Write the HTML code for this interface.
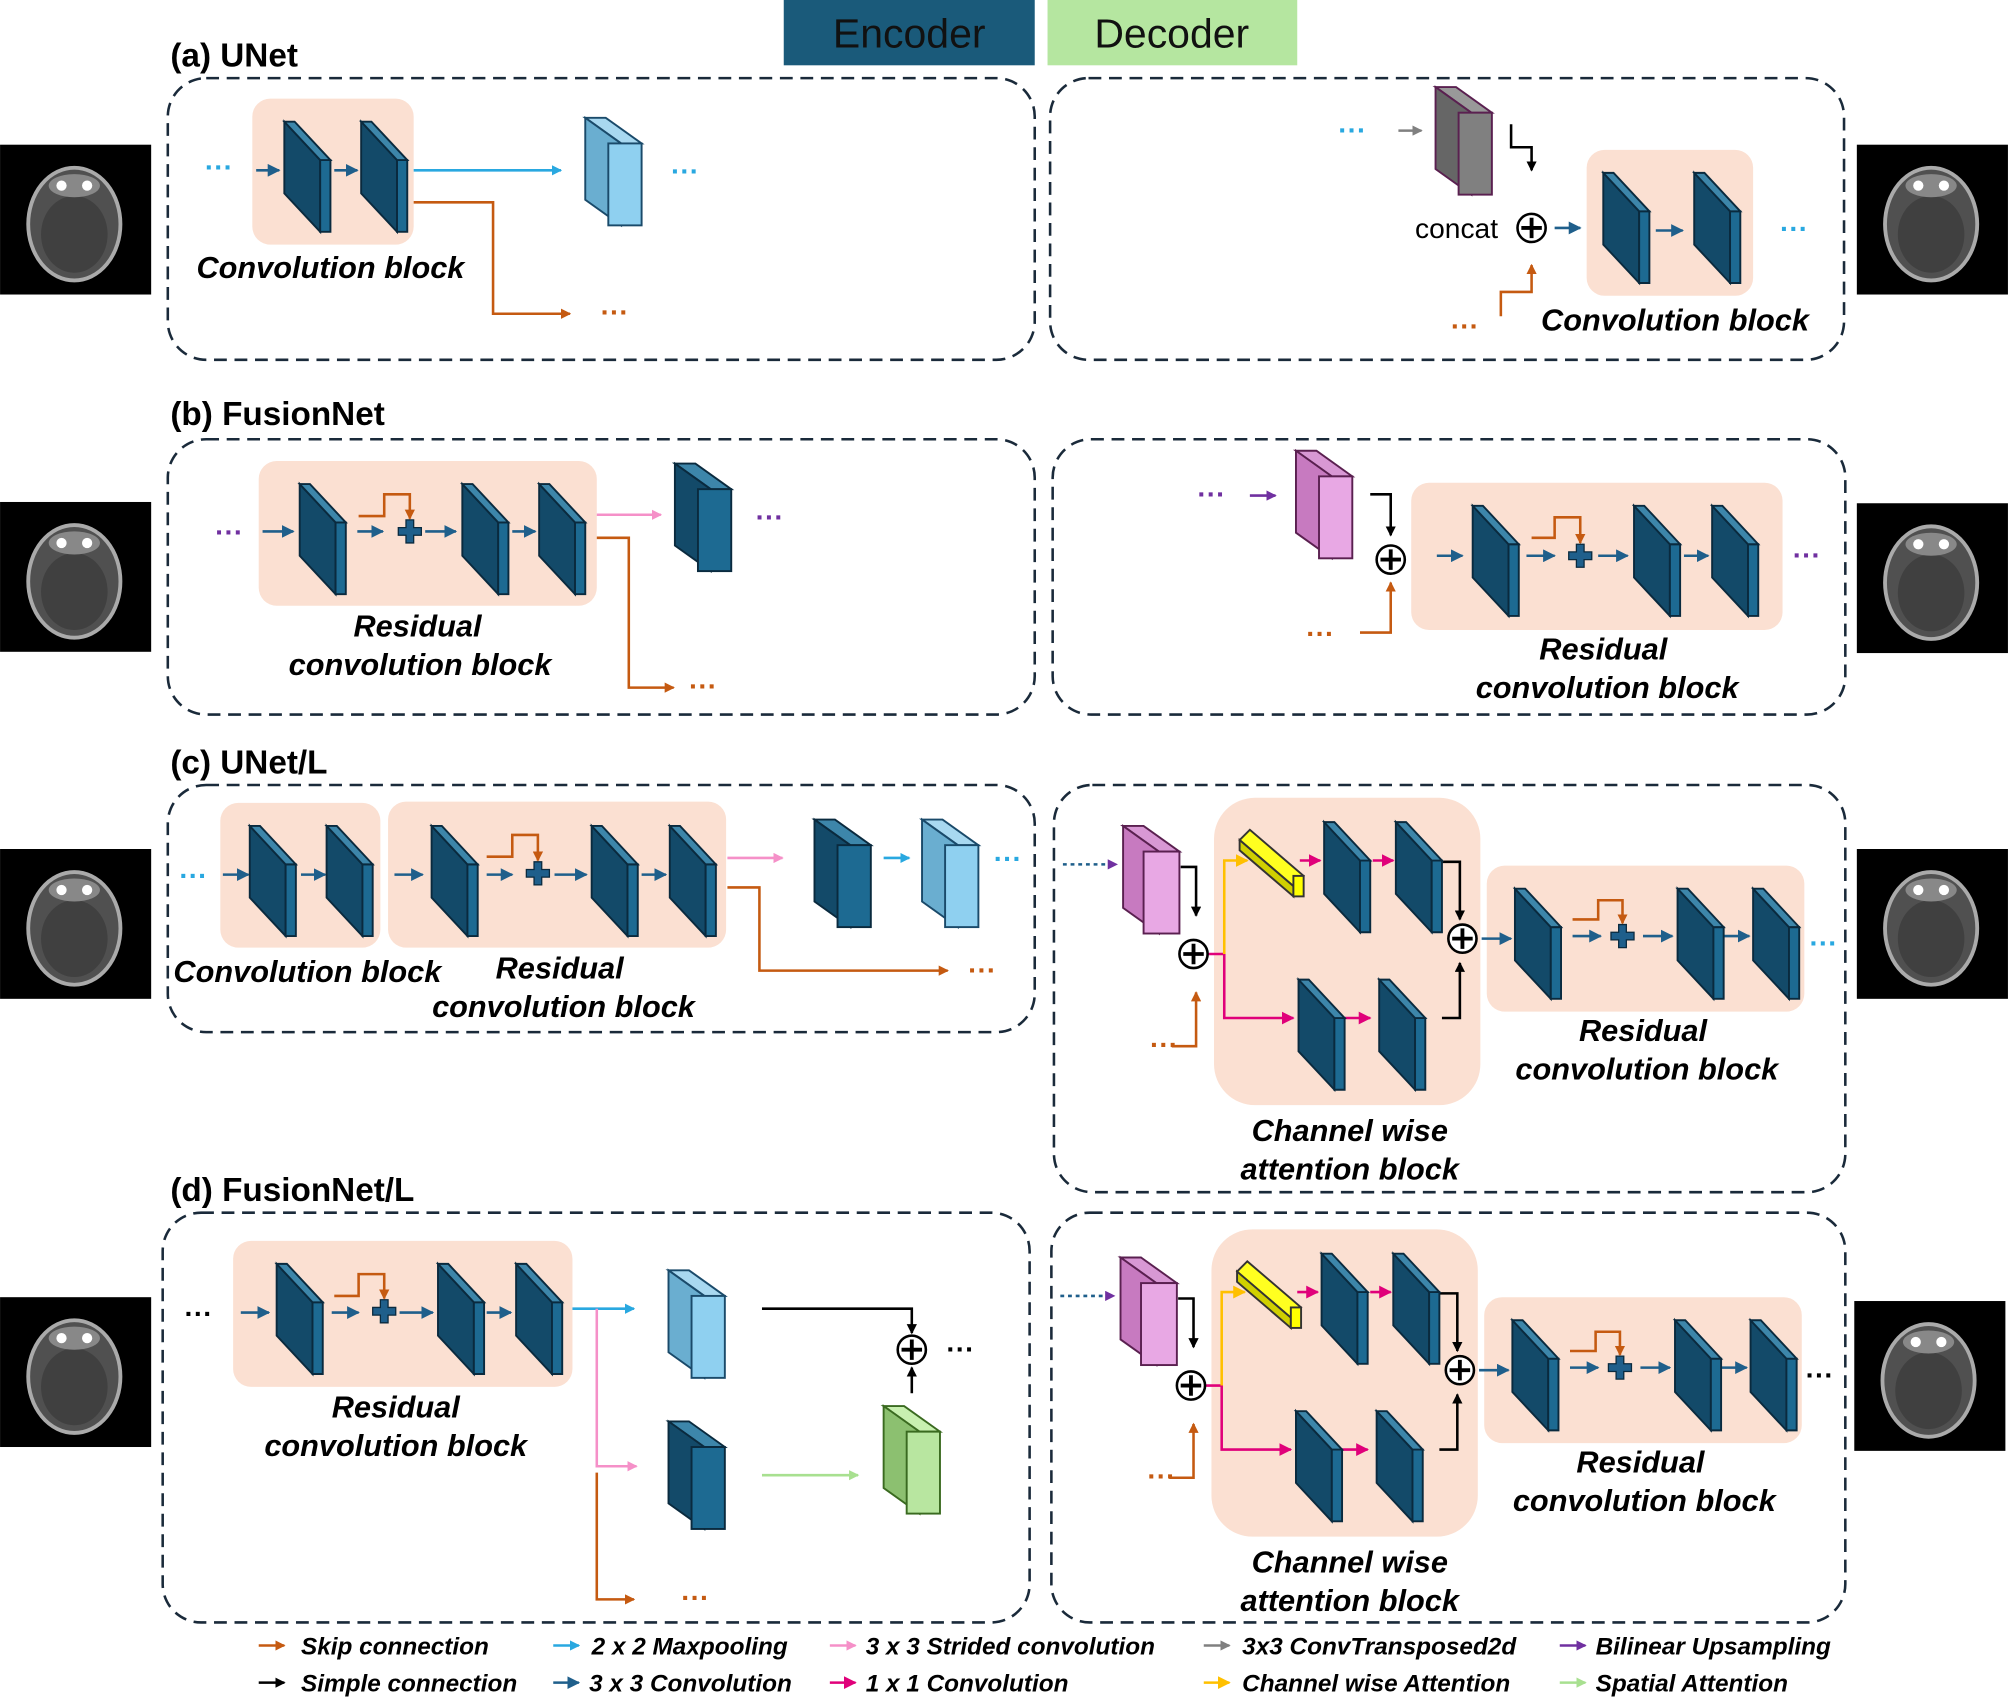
<!DOCTYPE html>
<html><head><meta charset="utf-8"><style>
html,body{margin:0;padding:0;background:#fff}
svg{display:block}
text{font-family:"Liberation Sans",Arial,sans-serif}
.lb{font-weight:bold;font-style:italic;font-size:24px;fill:#000}
.tt{font-weight:bold;font-size:26px;fill:#000}
.lg{font-weight:bold;font-style:italic;font-size:19px;fill:#000}
.dots{font-weight:bold;font-size:22px}
</style></head><body>
<svg width="2008" height="1698" viewBox="0 0 1568 1326" xmlns="http://www.w3.org/2000/svg">
<defs>
<g id="slab">
<polygon points="0,0 28,30 28,86 0,56" fill="#134a69" stroke="#0a2a3e" stroke-width="1.5"/>
<polygon points="28,30 36,30 36,86 28,86" fill="#1d6a92" stroke="#0a2a3e" stroke-width="1.5"/>
<polygon points="0,0 8,0 36,30 28,30" fill="#3d86aa" stroke="#0a2a3e" stroke-width="1.5"/>
</g>
<g id="cross"><path d="M-3,-9h6v6h6v6h-6v6h-6v-6h-6v-6h6z" fill="#1f5f8b" stroke="#0a2a3e" stroke-width="1"/></g>
<g id="cplus"><circle r="11" fill="#fff" stroke="#000" stroke-width="2"/><path d="M-8,0H8M0,-8V8" stroke="#000" stroke-width="3"/></g>
<g id="ybar">
<polygon points="0,8 8,0 50,36 42,44" fill="#ffff20" stroke="#333" stroke-width="1.5"/>
<polygon points="0,8 42,44 42,52 0,16" fill="#d0d000" stroke="#333" stroke-width="1.5"/>
<rect x="42" y="36" width="8" height="16" fill="#ffff00" stroke="#333" stroke-width="1.5"/>
</g>
<g id="ct">
<rect width="118" height="117" fill="#000"/>
<ellipse cx="58" cy="62" rx="36" ry="44" fill="#505050" stroke="#aaa" stroke-width="3"/>
<ellipse cx="58" cy="70" rx="26" ry="30" fill="#404040"/>
<ellipse cx="58" cy="32" rx="20" ry="9" fill="#888"/>
<circle cx="48" cy="32" r="4" fill="#fff"/><circle cx="68" cy="32" r="4" fill="#fff"/>
</g>
<marker id="mo" markerWidth="8" markerHeight="8" refX="7" refY="4" orient="auto" markerUnits="userSpaceOnUse"><path d="M0,0L8,4L0,8z" fill="#c55a11"/></marker>
<marker id="mk" markerWidth="8" markerHeight="8" refX="7" refY="4" orient="auto" markerUnits="userSpaceOnUse"><path d="M0,0L8,4L0,8z" fill="#000"/></marker>
<marker id="mc" markerWidth="8" markerHeight="8" refX="7" refY="4" orient="auto" markerUnits="userSpaceOnUse"><path d="M0,0L8,4L0,8z" fill="#29a8e0"/></marker>
<marker id="md" markerWidth="10" markerHeight="10" refX="9" refY="5" orient="auto" markerUnits="userSpaceOnUse"><path d="M0,0L10,5L0,10z" fill="#1f5f8b"/></marker>
<marker id="mp" markerWidth="8" markerHeight="8" refX="7" refY="4" orient="auto" markerUnits="userSpaceOnUse"><path d="M0,0L8,4L0,8z" fill="#f590c8"/></marker>
<marker id="mm" markerWidth="10" markerHeight="10" refX="9" refY="5" orient="auto" markerUnits="userSpaceOnUse"><path d="M0,0L10,5L0,10z" fill="#e0007a"/></marker>
<marker id="mg" markerWidth="8" markerHeight="8" refX="7" refY="4" orient="auto" markerUnits="userSpaceOnUse"><path d="M0,0L8,4L0,8z" fill="#808080"/></marker>
<marker id="my" markerWidth="10" markerHeight="10" refX="9" refY="5" orient="auto" markerUnits="userSpaceOnUse"><path d="M0,0L10,5L0,10z" fill="#ffc000"/></marker>
<marker id="mu" markerWidth="8" markerHeight="8" refX="7" refY="4" orient="auto" markerUnits="userSpaceOnUse"><path d="M0,0L8,4L0,8z" fill="#7030a0"/></marker>
<marker id="mn" markerWidth="8" markerHeight="8" refX="7" refY="4" orient="auto" markerUnits="userSpaceOnUse"><path d="M0,0L8,4L0,8z" fill="#a8e090"/></marker>
</defs>

<rect x="612" y="0" width="196" height="51" fill="#1a5a7a"/>
<text x="710" y="37" text-anchor="middle" font-size="32" fill="#111">Encoder</text>
<rect x="818" y="0" width="195" height="51" fill="#b5e6a0"/>
<text x="915" y="37" text-anchor="middle" font-size="32" fill="#111">Decoder</text>

<g fill="none" stroke="#1a2a3a" stroke-width="2" stroke-dasharray="10,6">
<rect x="131" y="61" width="677" height="220" rx="30"/>
<rect x="820" y="61" width="620" height="220" rx="30"/>
<rect x="131" y="343" width="677" height="215" rx="30"/>
<rect x="822" y="343" width="619" height="215" rx="30"/>
<rect x="131" y="613" width="677" height="193" rx="30"/>
<rect x="823" y="613" width="618" height="318" rx="30"/>
<rect x="127" y="947" width="677" height="320" rx="30"/>
<rect x="821" y="947" width="620" height="320" rx="30"/>
</g>

<text x="133" y="52" class="tt">(a) UNet</text>
<text x="133" y="332" class="tt">(b) FusionNet</text>
<text x="133" y="604" class="tt">(c) UNet/L</text>
<text x="133" y="938" class="tt">(d) FusionNet/L</text>

<use href="#ct" x="0" y="113"/><use href="#ct" x="0" y="392"/><use href="#ct" x="0" y="663"/><use href="#ct" x="0" y="1013"/>
<use href="#ct" x="1450" y="113"/><use href="#ct" x="1450" y="393"/><use href="#ct" x="1450" y="663"/><use href="#ct" x="1448" y="1016"/>

<g fill="#fbe0d2">
<rect x="197" y="77" width="126" height="114" rx="14"/>
<rect x="1239" y="117" width="130" height="114" rx="14"/>
<rect x="202" y="360" width="264" height="113" rx="14"/>
<rect x="1102" y="377" width="290" height="115" rx="14"/>
<rect x="172" y="627" width="125" height="113" rx="14"/>
<rect x="303" y="626" width="264" height="114" rx="14"/>
<rect x="948" y="623" width="208" height="240" rx="32"/>
<rect x="1161" y="676" width="248" height="114" rx="14"/>
<rect x="182" y="969" width="265" height="114" rx="14"/>
<rect x="946" y="960" width="208" height="240" rx="32"/>
<rect x="1159" y="1013" width="248" height="114" rx="14"/>
</g>

<g stroke-width="2" fill="none">
<text x="160" y="138" class="dots" fill="#29a8e0" stroke="none">···</text>
<line x1="200" y1="133" x2="218" y2="133" stroke="#1f5f8b" marker-end="url(#md)"/>
<line x1="261" y1="133" x2="279" y2="133" stroke="#1f5f8b" marker-end="url(#md)"/>
<line x1="323" y1="133" x2="438" y2="133" stroke="#29a8e0" marker-end="url(#mc)"/>
<polyline points="323,158 385,158 385,245 445,245" stroke="#c55a11" marker-end="url(#mo)"/>
<line x1="1092" y1="102" x2="1110" y2="102" stroke="#808080" marker-end="url(#mg)"/>
<polyline points="1180,97 1180,115 1196,115 1196,133" stroke="#000" marker-end="url(#mk)"/>
<line x1="1214" y1="178" x2="1234" y2="178" stroke="#1f5f8b" marker-end="url(#md)"/>
<line x1="1293" y1="180" x2="1314" y2="180" stroke="#1f5f8b" marker-end="url(#md)"/>
<polyline points="1172,247 1172,228 1196,228 1196,207" stroke="#c55a11" marker-end="url(#mo)"/>
<line x1="205" y1="415" x2="229" y2="415" stroke="#1f5f8b" marker-end="url(#md)"/>
<line x1="279" y1="415" x2="299" y2="415" stroke="#1f5f8b" marker-end="url(#md)"/>
<polyline points="280,403 300,403 300,386 320,386 320,405" stroke="#c55a11" marker-end="url(#mo)"/>
<line x1="332" y1="415" x2="356" y2="415" stroke="#1f5f8b" marker-end="url(#md)"/>
<line x1="400" y1="415" x2="418" y2="415" stroke="#1f5f8b" marker-end="url(#md)"/>
<line x1="466" y1="402" x2="516" y2="402" stroke="#f590c8" marker-end="url(#mp)"/>
<polyline points="466,420 491,420 491,537 526,537" stroke="#c55a11" marker-end="url(#mo)"/>
<line x1="976" y1="387" x2="996" y2="387" stroke="#7030a0" marker-end="url(#mu)"/>
<polyline points="1070,386 1086,386 1086,418" stroke="#000" marker-end="url(#mk)"/>
<polyline points="1062,494 1086,494 1086,455" stroke="#c55a11" marker-end="url(#mo)"/>
<line x1="1122" y1="434" x2="1142" y2="434" stroke="#1f5f8b" marker-end="url(#md)"/>
<line x1="1192" y1="434" x2="1214" y2="434" stroke="#1f5f8b" marker-end="url(#md)"/>
<polyline points="1196,420 1214,420 1214,404 1234,404 1234,424" stroke="#c55a11" marker-end="url(#mo)"/>
<line x1="1248" y1="434" x2="1271" y2="434" stroke="#1f5f8b" marker-end="url(#md)"/>
<line x1="1315" y1="434" x2="1334" y2="434" stroke="#1f5f8b" marker-end="url(#md)"/>
<line x1="174" y1="683" x2="194" y2="683" stroke="#1f5f8b" marker-end="url(#md)"/>
<line x1="235" y1="683" x2="254" y2="683" stroke="#1f5f8b" marker-end="url(#md)"/>
<line x1="308" y1="683" x2="330" y2="683" stroke="#1f5f8b" marker-end="url(#md)"/>
<line x1="380" y1="683" x2="400" y2="683" stroke="#1f5f8b" marker-end="url(#md)"/>
<polyline points="380,669 400,669 400,652 420,652 420,672" stroke="#c55a11" marker-end="url(#mo)"/>
<line x1="433" y1="683" x2="458" y2="683" stroke="#1f5f8b" marker-end="url(#md)"/>
<line x1="501" y1="683" x2="520" y2="683" stroke="#1f5f8b" marker-end="url(#md)"/>
<line x1="568" y1="670" x2="611" y2="670" stroke="#f590c8" marker-end="url(#mp)"/>
<line x1="690" y1="670" x2="710" y2="670" stroke="#29a8e0" marker-end="url(#mc)"/>
<polyline points="568,693 593,693 593,758 740,758" stroke="#c55a11" marker-end="url(#mo)"/>
<line x1="188" y1="1025" x2="210" y2="1025" stroke="#1f5f8b" marker-end="url(#md)"/>
<line x1="259" y1="1025" x2="280" y2="1025" stroke="#1f5f8b" marker-end="url(#md)"/>
<polyline points="261,1012 280,1012 280,995 300,995 300,1014" stroke="#c55a11" marker-end="url(#mo)"/>
<line x1="312" y1="1025" x2="338" y2="1025" stroke="#1f5f8b" marker-end="url(#md)"/>
<line x1="380" y1="1025" x2="399" y2="1025" stroke="#1f5f8b" marker-end="url(#md)"/>
<line x1="447" y1="1022" x2="495" y2="1022" stroke="#29a8e0" marker-end="url(#mc)"/>
<polyline points="466,1022 466,1145 497,1145" stroke="#f590c8" marker-end="url(#mp)"/>
<polyline points="466,1150 466,1249 495,1249" stroke="#c55a11" marker-end="url(#mo)"/>
<polyline points="595,1022 712,1022 712,1041" stroke="#000" marker-end="url(#mk)"/>
<line x1="712" y1="1088" x2="712" y2="1068" stroke="#000" marker-end="url(#mk)"/>
<line x1="595" y1="1152" x2="670" y2="1152" stroke="#a8e090" marker-end="url(#mn)"/>
</g>

<g id="attn">
<g stroke-width="2" fill="none">
<line x1="830" y1="675" x2="872" y2="675" stroke="#1f5f8b" stroke-dasharray="3,3" marker-end="url(#mu)"/>
<polyline points="922,677 934,677 934,715" stroke="#000" marker-end="url(#mk)"/>
<polyline points="915,817 934,817 934,775" stroke="#c55a11" marker-end="url(#mo)"/>
<line x1="943" y1="745" x2="956" y2="745" stroke="#e0007a"/>
<polyline points="956,745 956,672 974,672" stroke="#ffc000" marker-end="url(#my)"/>
<polyline points="956,745 956,795 1010,795" stroke="#e0007a" marker-end="url(#mm)"/>
<line x1="1015" y1="672" x2="1031" y2="672" stroke="#e0007a" marker-end="url(#mm)"/>
<line x1="1072" y1="672" x2="1088" y2="672" stroke="#e0007a" marker-end="url(#mm)"/>
<line x1="1050" y1="795" x2="1070" y2="795" stroke="#e0007a" marker-end="url(#mm)"/>
<polyline points="1126,673 1140,673 1140,718" stroke="#000" marker-end="url(#mk)"/>
<polyline points="1126,795 1140,795 1140,752" stroke="#000" marker-end="url(#mk)"/>
<line x1="1157" y1="733" x2="1180" y2="733" stroke="#1f5f8b" marker-end="url(#md)"/>
<line x1="1228" y1="731" x2="1250" y2="731" stroke="#1f5f8b" marker-end="url(#md)"/>
<polyline points="1228,718 1248,718 1248,703 1267,703 1267,721" stroke="#c55a11" marker-end="url(#mo)"/>
<line x1="1283" y1="731" x2="1306" y2="731" stroke="#1f5f8b" marker-end="url(#md)"/>
<line x1="1345" y1="731" x2="1366" y2="731" stroke="#1f5f8b" marker-end="url(#md)"/>
</g>
<g transform="translate(877,645)">
<polygon points="0,0 16,0 44,20 28,20" fill="#d898d4" stroke="#5a2050" stroke-width="1.5"/>
<polygon points="0,0 28,20 28,84 0,64" fill="#c77ac0" stroke="#5a2050" stroke-width="1.5"/>
<rect x="16" y="20" width="28" height="64" fill="#e8a8e4" stroke="#5a2050" stroke-width="1.5"/>
</g>
<use href="#cplus" x="932" y="745"/>
<use href="#ybar" x="968" y="648"/>
<use href="#slab" x="1034" y="642"/><use href="#slab" x="1090" y="642"/>
<use href="#slab" x="1014" y="765"/><use href="#slab" x="1077" y="765"/>
<use href="#cplus" x="1142" y="733"/>
<use href="#slab" x="1183" y="694"/><use href="#cross" x="1267" y="731"/>
<use href="#slab" x="1310" y="694"/><use href="#slab" x="1369" y="694"/>
<text x="898" y="823" class="dots" fill="#c55a11">···</text>
</g>
<use href="#attn" x="-2" y="337"/>

<use href="#slab" x="222" y="95"/><use href="#slab" x="282" y="95"/>
<use href="#slab" x="1252" y="135"/><use href="#slab" x="1323" y="135"/>
<use href="#slab" x="234" y="378"/><use href="#slab" x="361" y="378"/><use href="#slab" x="421" y="378"/>
<use href="#slab" x="1150" y="395"/><use href="#slab" x="1276" y="395"/><use href="#slab" x="1337" y="395"/>
<use href="#slab" x="195" y="645"/><use href="#slab" x="255" y="645"/>
<use href="#slab" x="337" y="645"/><use href="#slab" x="462" y="645"/><use href="#slab" x="523" y="645"/>
<use href="#slab" x="216" y="987"/><use href="#slab" x="342" y="987"/><use href="#slab" x="403" y="987"/>
<use href="#cross" x="320" y="415"/><use href="#cross" x="1234" y="434"/><use href="#cross" x="420" y="682"/><use href="#cross" x="300" y="1024"/>
<use href="#cplus" x="1196" y="178"/><use href="#cplus" x="1086" y="437"/><use href="#cplus" x="712" y="1054"/>

<g stroke-width="1.5">
<g transform="translate(457,92)" stroke="#1a4a6a"><polygon points="0,0 16,0 44,20 28,20" fill="#a8d8f0"/><polygon points="0,0 28,20 28,84 0,64" fill="#6aaed0"/><rect x="18" y="20" width="26" height="64" fill="#8fd0f0"/></g>
<g transform="translate(1121,68)" stroke="#5a2050"><polygon points="0,0 16,0 44,20 28,20" fill="#999"/><polygon points="0,0 28,20 28,84 0,64" fill="#666"/><rect x="18" y="20" width="26" height="64" fill="#808080"/></g>
<g transform="translate(527,362)" stroke="#0a2a3e"><polygon points="0,0 16,0 44,20 28,20" fill="#3d86aa"/><polygon points="0,0 28,20 28,84 0,64" fill="#134a69"/><rect x="18" y="20" width="26" height="64" fill="#1d6a92"/></g>
<g transform="translate(1012,352)" stroke="#5a2050"><polygon points="0,0 16,0 44,20 28,20" fill="#d898d4"/><polygon points="0,0 28,20 28,84 0,64" fill="#c77ac0"/><rect x="18" y="20" width="26" height="64" fill="#e8a8e4"/></g>
<g transform="translate(636,640)" stroke="#0a2a3e"><polygon points="0,0 16,0 44,20 28,20" fill="#3d86aa"/><polygon points="0,0 28,20 28,84 0,64" fill="#134a69"/><rect x="18" y="20" width="26" height="64" fill="#1d6a92"/></g>
<g transform="translate(720,640)" stroke="#1a4a6a"><polygon points="0,0 16,0 44,20 28,20" fill="#a8d8f0"/><polygon points="0,0 28,20 28,84 0,64" fill="#6aaed0"/><rect x="18" y="20" width="26" height="64" fill="#8fd0f0"/></g>
<g transform="translate(522,992)" stroke="#1a4a6a"><polygon points="0,0 16,0 44,20 28,20" fill="#a8d8f0"/><polygon points="0,0 28,20 28,84 0,64" fill="#6aaed0"/><rect x="18" y="20" width="26" height="64" fill="#8fd0f0"/></g>
<g transform="translate(522,1110)" stroke="#0a2a3e"><polygon points="0,0 16,0 44,20 28,20" fill="#3d86aa"/><polygon points="0,0 28,20 28,84 0,64" fill="#134a69"/><rect x="18" y="20" width="26" height="64" fill="#1d6a92"/></g>
<g transform="translate(690,1098)" stroke="#3a6a20"><polygon points="0,0 16,0 44,20 28,20" fill="#c8f0b0"/><polygon points="0,0 28,20 28,84 0,64" fill="#8cc070"/><rect x="18" y="20" width="26" height="64" fill="#b8e6a0"/></g>
</g>

<g class="dots">
<text x="524" y="141" fill="#29a8e0">···</text>
<text x="469" y="251" fill="#c55a11">···</text>
<text x="1045" y="109" fill="#29a8e0">···</text>
<text x="1390" y="186" fill="#29a8e0">···</text>
<text x="1133" y="262" fill="#c55a11">···</text>
<text x="168" y="423" fill="#7030a0">···</text>
<text x="590" y="411" fill="#7030a0">···</text>
<text x="538" y="543" fill="#c55a11">···</text>
<text x="935" y="393" fill="#7030a0">···</text>
<text x="1020" y="502" fill="#c55a11">···</text>
<text x="1400" y="441" fill="#7030a0">···</text>
<text x="140" y="691" fill="#29a8e0">···</text>
<text x="776" y="678" fill="#29a8e0">···</text>
<text x="756" y="765" fill="#c55a11">···</text>
<text x="1413" y="744" fill="#29a8e0">···</text>
<text x="144" y="1033" fill="#000">···</text>
<text x="739" y="1061" fill="#000">···</text>
<text x="532" y="1255" fill="#c55a11">···</text>
<text x="1410" y="1081" fill="#000">···</text>
</g>
<text x="1105" y="186" font-size="22" fill="#000">concat</text>

<g class="lb" text-anchor="middle">
<text x="258" y="217">Convolution block</text>
<text x="1308" y="258">Convolution block</text>
<text x="326" y="497">Residual</text><text x="328" y="527">convolution block</text>
<text x="1252" y="515">Residual</text><text x="1255" y="545">convolution block</text>
<text x="240" y="767">Convolution block</text>
<text x="437" y="764">Residual</text><text x="440" y="794">convolution block</text>
<text x="1283" y="813">Residual</text><text x="1286" y="843">convolution block</text>
<text x="1054" y="891">Channel wise</text><text x="1054" y="921">attention block</text>
<text x="309" y="1107">Residual</text><text x="309" y="1137">convolution block</text>
<text x="1281" y="1150">Residual</text><text x="1284" y="1180">convolution block</text>
<text x="1054" y="1228">Channel wise</text><text x="1054" y="1258">attention block</text>
</g>

<g stroke-width="2">
<line x1="202" y1="1285" x2="222" y2="1285" stroke="#c55a11" marker-end="url(#mo)"/>
<line x1="202" y1="1314" x2="222" y2="1314" stroke="#000" marker-end="url(#mk)"/>
<line x1="432" y1="1285" x2="452" y2="1285" stroke="#29a8e0" marker-end="url(#mc)"/>
<line x1="432" y1="1314" x2="452" y2="1314" stroke="#1f5f8b" marker-end="url(#md)"/>
<line x1="648" y1="1285" x2="668" y2="1285" stroke="#f590c8" marker-end="url(#mp)"/>
<line x1="648" y1="1314" x2="668" y2="1314" stroke="#e0007a" marker-end="url(#mm)"/>
<line x1="940" y1="1285" x2="960" y2="1285" stroke="#808080" marker-end="url(#mg)"/>
<line x1="940" y1="1314" x2="960" y2="1314" stroke="#ffc000" marker-end="url(#my)"/>
<line x1="1218" y1="1285" x2="1238" y2="1285" stroke="#7030a0" marker-end="url(#mu)"/>
<line x1="1218" y1="1314" x2="1238" y2="1314" stroke="#a8e090" marker-end="url(#mn)"/>
</g>
<g class="lg">
<text x="235" y="1292">Skip connection</text><text x="235" y="1321">Simple connection</text>
<text x="462" y="1292">2 x 2 Maxpooling</text><text x="460" y="1321">3 x 3 Convolution</text>
<text x="676" y="1292">3 x 3 Strided convolution</text><text x="676" y="1321">1 x 1 Convolution</text>
<text x="970" y="1292">3x3 ConvTransposed2d</text><text x="970" y="1321">Channel wise Attention</text>
<text x="1246" y="1292">Bilinear Upsampling</text><text x="1246" y="1321">Spatial Attention</text>
</g>
</svg>
</body></html>
